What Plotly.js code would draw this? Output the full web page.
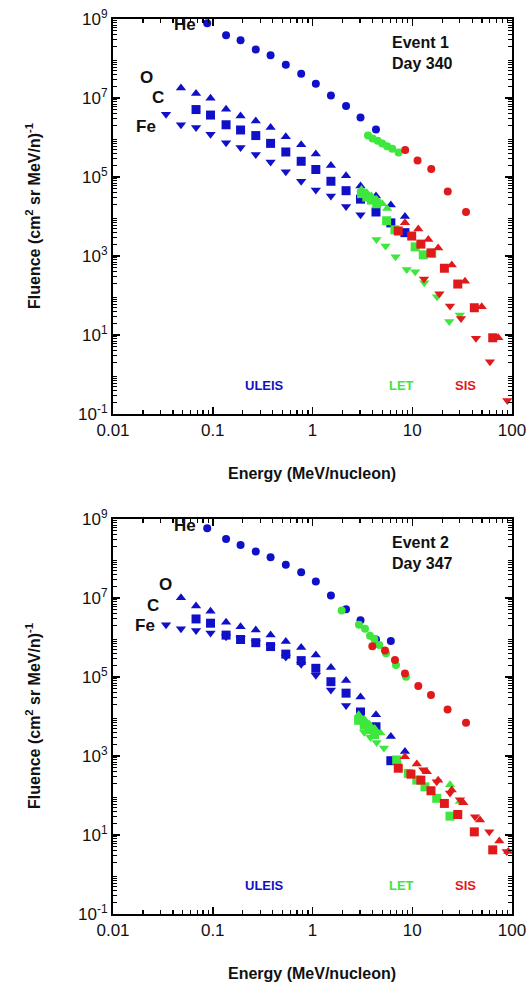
<!DOCTYPE html>
<html>
<head>
<meta charset="utf-8">
<script src="https://cdn.plot.ly/plotly-3.0.1.min.js"></script>
<style>html,body{margin:0;padding:0;background:#fff;}#chart{width:532px;height:984px;}</style>
</head>
<body>
<div id="chart"></div>
<script>
// ---------------- Event 1 (Day 340) ----------------
const e1_He_ULEIS_E = [0.088,0.136,0.19,0.27,0.38,0.54,0.77,1.08,1.53,2.17,3.03,4.33];
const e1_He_ULEIS_F = [7.8e8,3.9e8,2.9e8,1.7e8,1.2e8,6.9e7,4.1e7,2.3e7,1.15e7,6.3e6,3.2e6,1.6e6];
const e1_O_ULEIS_E  = [0.048,0.068,0.095,0.136,0.19,0.27,0.38,0.54,0.77,1.08,1.53,2.17,3.03,4.33,6.1,8.45];
const e1_O_ULEIS_F  = [1.8e7,1.3e7,9.8e6,5.2e6,3.5e6,2.6e6,1.8e6,1.05e6,6.6e5,3.8e5,1.95e5,1.07e5,5.9e4,3.3e4,1.95e4,1.0e4];
const e1_C_ULEIS_E  = [0.068,0.095,0.136,0.19,0.27,0.38,0.54,0.77,1.08,1.53,2.17,3.03,4.33,6.1,8.45];
const e1_C_ULEIS_F  = [5.1e6,3.7e6,2.1e6,1.55e6,1.12e6,7.1e5,4.3e5,2.5e5,1.55e5,7.8e4,4.5e4,2.75e4,1.3e4,6.9e3,3.9e3];
const e1_Fe_ULEIS_E = [0.034,0.048,0.068,0.095,0.136,0.19,0.27,0.38,0.54,0.77,1.08,1.53,2.17,3.03];
const e1_Fe_ULEIS_F = [3.9e6,2.1e6,1.8e6,1.2e6,7.4e5,5.6e5,3.7e5,2.4e5,1.35e5,7.8e4,4.7e4,3.3e4,1.8e4,1.1e4];

const e1_He_LET_E = [3.6,4.0,4.5,5.0,5.6,6.3,7.3];
const e1_He_LET_F = [1.12e6,9.5e5,8.3e5,7.1e5,6.0e5,5.2e5,4.2e5];
const e1_O_LET_E  = [3.1,3.5,3.9,4.4,5.0,5.6];
const e1_O_LET_F  = [4.8e4,4.0e4,3.3e4,2.7e4,2.1e4,1.6e4];
const e1_C_LET_E  = [3.1,3.5,3.9,4.4,5.53,6.7,10.7,12.9,15.7];
const e1_C_LET_F  = [3.8e4,3.1e4,2.6e4,2.1e4,7.8e3,4.6e3,1.7e3,1.07e3,1.17e3];
const e1_Fe_LET_E = [4.38,5.4,6.8,8.8,10.7,13.2,17.7,23.5,30.0];
const e1_Fe_LET_F = [2.6e3,1.8e3,955,457,398,209,93,22,32];

const e1_He_SIS_E = [8.5,11.3,15.5,22.7,34.6];
const e1_He_SIS_F = [4.8e5,2.6e5,1.6e5,4.3e4,1.3e4];
const e1_O_SIS_E  = [8.45,11.5,14.5,18.2,24.9,33.8,49.7,72.9];
const e1_O_SIS_F  = [6.9e3,4.8e3,2.6e3,1.6e3,590,230,52,8.5];
const e1_C_SIS_E  = [7.24,9.87,12.2,15.4,21.0,28.6,41.9,64.1];
const e1_C_SIS_F  = [4.3e3,3.2e3,2.0e3,1.2e3,490,195,49,8.5];
const e1_Fe_SIS_E = [13.1,18.7,23.9,30.8,43.5,60.1,89.8];
const e1_Fe_SIS_F = [263,110,54,26,8.3,2.1,0.22];

// ---------------- Event 2 (Day 347) ----------------
const e2_He_ULEIS_E = [0.088,0.136,0.19,0.27,0.38,0.54,0.77,1.08,1.53,2.17,3.03,4.33,6.1];
const e2_He_ULEIS_F = [5.8e8,3.1e8,2.2e8,1.5e8,1.07e8,6.9e7,4.5e7,2.6e7,1.15e7,5.2e6,2.75e6,8.9e5,8.1e5];
const e2_O_ULEIS_E  = [0.048,0.068,0.095,0.136,0.19,0.27,0.38,0.54,0.77,1.08,1.53,2.17,3.03,4.33,6.1,8.45];
const e2_O_ULEIS_F  = [1.02e7,6.3e6,4.6e6,2.45e6,1.86e6,1.55e6,1.15e6,7.9e5,5.6e5,3.6e5,1.74e5,8.1e4,3.1e4,1.1e4,3.1e3,1.3e3];
const e2_C_ULEIS_E  = [0.068,0.095,0.136,0.19,0.27,0.38,0.54,0.77,1.08,1.53,2.17,3.03,4.33,6.1];
const e2_C_ULEIS_F  = [2.95e6,2.3e6,1.15e6,8.9e5,7.4e5,5.9e5,3.8e5,2.6e5,1.66e5,7.6e4,3.9e4,1.3e4,5.5e3,760];
const e2_Fe_ULEIS_E = [0.034,0.048,0.068,0.095,0.136,0.19,0.27,0.38,0.54,0.77,1.08,1.53,2.17];
const e2_Fe_ULEIS_F = [2.1e6,1.66e6,1.5e6,1.3e6,1.05e6,9.5e5,7.4e5,5.9e5,3.2e5,2.1e5,1.1e5,4.7e4,1.9e4];

const e2_He_LET_E = [1.96,2.92,3.36,3.77,4.17,4.67,5.46,6.87,8.65];
const e2_He_LET_F = [4.8e6,2.1e6,1.66e6,1.1e6,9.1e5,6.5e5,4.0e5,2.0e5,1.02e5];
const e2_O_LET_E  = [2.9,3.3,3.7,4.2,4.8,23.9,30.0];
const e2_O_LET_F  = [1.1e4,8.5e3,6.5e3,5.0e3,3.8e3,186,71];
const e2_C_LET_E  = [2.9,3.3,3.7,4.2,6.98,9.12,11.1,13.4,17.6,23.9];
const e2_C_LET_F  = [8.0e3,6.0e3,4.6e3,3.5e3,794,363,245,166,85,30];
const e2_Fe_LET_E = [3.3,3.8,4.4,5.2];
const e2_Fe_LET_F = [4.0e3,3.0e3,2.2e3,1.6e3];

const e2_He_SIS_E = [3.98,5.33,6.71,8.45,11.5,15.4,22.6,34.6];
const e2_He_SIS_F = [6.0e5,4.7e5,2.7e5,1.23e5,5.9e4,3.5e4,1.5e4,6.9e3];
const e2_O_SIS_E  = [8.45,11.1,14.0,18.2,24.9,32.5,47.8,74.6,91.8];
const e2_O_SIS_F  = [955,630,400,245,138,66,24,7.1,3.8];
const e2_C_SIS_E  = [7.24,9.7,12.2,15.4,21.0,28.6,41.9,64.1];
const e2_C_SIS_F  = [490,347,245,132,63,33,12,4.2];
const e2_Fe_SIS_E = [12.9,17.6,23.9,30.1,42.6,59.2,88.5];
const e2_Fe_SIS_F = [447,224,115,78,29,12,3.8];

// tick labels
const xTickVals = [0.01,0.1,1,10,100];
const xTickText = ['0.01','0.1','1','10','100'];
const yTickVals = [1e-1,10,1e3,1e5,1e7,1e9];
const yTickText = ['10<sup>-1</sup>','10<sup>1</sup>','10<sup>3</sup>','10<sup>5</sup>','10<sup>7</sup>','10<sup>9</sup>'];
const yUnlabeledDecades = [1,1e2,1e4,1e6,1e8];

const COL = {ULEIS:'#1010c8', LET:'#3ee63e', SIS:'#e01a1a'};
const SYM = {He:'circle', O:'triangle-up', C:'square', Fe:'triangle-down'};

function minorVals(lo, hi){
  const v=[];
  for(let p=lo;p<hi;p++){ for(let m=2;m<=9;m++){ v.push(m*Math.pow(10,p)); } }
  return v;
}

const traces=[];
function add(E,F,inst,sp,panel){
  traces.push({x:E,y:F,type:'scatter',mode:'markers',name:sp+' '+inst,
    xaxis: panel===1?'x':'x2', yaxis: panel===1?'y':'y2',
    marker:{symbol:SYM[sp],color:COL[inst],size:sp==='He'?8:9,line:{width:0}},
    showlegend:false, hoverinfo:'x+y'});
}
const sets = {
  1:{He:{ULEIS:[e1_He_ULEIS_E,e1_He_ULEIS_F],LET:[e1_He_LET_E,e1_He_LET_F],SIS:[e1_He_SIS_E,e1_He_SIS_F]},
     O:{ULEIS:[e1_O_ULEIS_E,e1_O_ULEIS_F],LET:[e1_O_LET_E,e1_O_LET_F],SIS:[e1_O_SIS_E,e1_O_SIS_F]},
     C:{ULEIS:[e1_C_ULEIS_E,e1_C_ULEIS_F],LET:[e1_C_LET_E,e1_C_LET_F],SIS:[e1_C_SIS_E,e1_C_SIS_F]},
     Fe:{ULEIS:[e1_Fe_ULEIS_E,e1_Fe_ULEIS_F],LET:[e1_Fe_LET_E,e1_Fe_LET_F],SIS:[e1_Fe_SIS_E,e1_Fe_SIS_F]}},
  2:{He:{ULEIS:[e2_He_ULEIS_E,e2_He_ULEIS_F],LET:[e2_He_LET_E,e2_He_LET_F],SIS:[e2_He_SIS_E,e2_He_SIS_F]},
     O:{ULEIS:[e2_O_ULEIS_E,e2_O_ULEIS_F],LET:[e2_O_LET_E,e2_O_LET_F],SIS:[e2_O_SIS_E,e2_O_SIS_F]},
     C:{ULEIS:[e2_C_ULEIS_E,e2_C_ULEIS_F],LET:[e2_C_LET_E,e2_C_LET_F],SIS:[e2_C_SIS_E,e2_C_SIS_F]},
     Fe:{ULEIS:[e2_Fe_ULEIS_E,e2_Fe_ULEIS_F],LET:[e2_Fe_LET_E,e2_Fe_LET_F],SIS:[e2_Fe_SIS_E,e2_Fe_SIS_F]}}
};
[1,2].forEach(p=>{
  ['ULEIS','LET','SIS'].forEach(inst=>{
    ['He','O','C','Fe'].forEach(sp=>{ const d=sets[p][sp][inst]; add(d[0],d[1],inst,sp,p); });
  });
});

const W=532,H=984;
const X0=113, X1=512;
const P1=[19,414], P2=[519,914];
const fy = y => 1 - y/H;
const FONT='Liberation Sans, Arial, Helvetica, sans-serif';

function xax(anchor){
  return {type:'log',range:[-2,2],domain:[X0/W,X1/W],anchor:anchor,
    tickmode:'array',tickvals:xTickVals,ticktext:xTickText,
    ticks:'inside',ticklen:7,tickwidth:1.5,tickcolor:'#000',mirror:'allticks',
    showline:true,linecolor:'#000',linewidth:2,showgrid:false,zeroline:false,
    tickfont:{family:FONT,size:17,color:'#111'},
    minor:{tickmode:'array',tickvals:minorVals(-2,2),ticks:'inside',ticklen:4,tickwidth:1.2,tickcolor:'#000',showgrid:false}};
}
function yax(anchor,P){
  return {type:'log',range:[-1,9],domain:[fy(P[1]),fy(P[0])],anchor:anchor,
    tickmode:'array',tickvals:yTickVals,ticktext:yTickText,
    ticks:'inside',ticklen:7,tickwidth:1.5,tickcolor:'#000',mirror:'allticks',
    showline:true,linecolor:'#000',linewidth:2,showgrid:false,zeroline:false,
    tickfont:{family:FONT,size:17,color:'#111'},
    minor:{tickmode:'array',tickvals:minorVals(-1,9),ticks:'inside',ticklen:4,tickwidth:1.2,tickcolor:'#000',showgrid:false}};
}
// overlay axis carrying the unlabeled decade ticks (long ticks, no text)
function yaxOver(anchor,P,over){
  return {type:'log',range:[-1,9],domain:[fy(P[1]),fy(P[0])],anchor:anchor,overlaying:over,
    tickmode:'array',tickvals:yUnlabeledDecades,showticklabels:false,
    ticks:'inside',ticklen:7,tickwidth:1.5,tickcolor:'#000',mirror:'allticks',
    showline:false,showgrid:false,zeroline:false};
}

function ann(text,x,y,opts){
  return Object.assign({text:text,xref:'paper',yref:'paper',x:x/W,y:fy(y),showarrow:false,
    xanchor:'center',yanchor:'middle',font:{family:FONT,size:15,color:'#111'}},opts||{});
}
const B = s => '<b>'+s+'</b>';
const annotations=[];
[[0,1,340],[500,2,347]].forEach(([dy,ev,day])=>{
  annotations.push(ann(B('Fluence (cm<sup>2</sup> sr MeV/n)<sup>-1</sup>'),33,216+dy,{textangle:-90,font:{family:FONT,size:16,color:'#111'}}));
  annotations.push(ann(B('Energy (MeV/nucleon)'),312,473+dy,{font:{family:FONT,size:16,color:'#111'}}));
  annotations.push(ann(B('Event '+ev+'<br>Day '+day),390,53+dy,{xanchor:'left',align:'left',font:{family:FONT,size:16,color:'#111'}}));
  annotations.push(ann(B('ULEIS'),264,385+dy,{font:{family:FONT,size:13,color:COL.ULEIS}}));
  annotations.push(ann(B('LET'),401,385+dy,{font:{family:FONT,size:13,color:COL.LET}}));
  annotations.push(ann(B('SIS'),465,385+dy,{font:{family:FONT,size:13,color:COL.SIS}}));
});
// species labels
annotations.push(ann(B('He'),185,25,{font:{family:FONT,size:17,color:'#111'}}));
annotations.push(ann(B('O'),146,78,{font:{family:FONT,size:17,color:'#111'}}));
annotations.push(ann(B('C'),158,97,{font:{family:FONT,size:17,color:'#111'}}));
annotations.push(ann(B('Fe'),146,127,{font:{family:FONT,size:17,color:'#111'}}));
annotations.push(ann(B('He'),185,525,{font:{family:FONT,size:17,color:'#111'}}));
annotations.push(ann(B('O'),165,584,{font:{family:FONT,size:17,color:'#111'}}));
annotations.push(ann(B('C'),153,605,{font:{family:FONT,size:17,color:'#111'}}));
annotations.push(ann(B('Fe'),145,625,{font:{family:FONT,size:17,color:'#111'}}));

const layout={width:W,height:H,margin:{l:0,r:0,t:0,b:0},paper_bgcolor:'#fff',plot_bgcolor:'#fff',
  showlegend:false,
  xaxis:xax('y'), yaxis:yax('x',P1), xaxis2:xax('y2'), yaxis2:yax('x2',P2),
  yaxis3:yaxOver('x','P1'==='' ? P1 : P1,'y'), yaxis4:yaxOver('x2',P2,'y2'),
  annotations:annotations};

Plotly.newPlot('chart',traces,layout,{staticPlot:true,displayModeBar:false});
</script>
</body>
</html>
